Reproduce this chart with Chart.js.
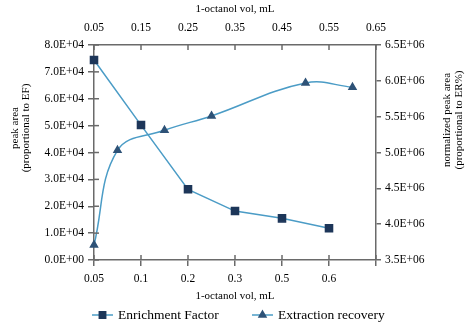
<!DOCTYPE html>
<html>
<head>
<meta charset="utf-8">
<script src="https://cdn.jsdelivr.net/npm/chart.js@4.4.0/dist/chart.umd.min.js"></script>
<style>
  html, body { margin: 0; padding: 0; background: #fff; }
</style>
</head>
<body>
<canvas id="chart" width="472" height="323"></canvas>
<script>
// bottom axis (category) - enrichment factor, left axis
var volLabels = ['0.05', '0.1', '0.2', '0.3', '0.5', '0.6', ''];
var enrichment = [74400, 50200, 26300, 18200, 15500, 11800];

// top axis (linear) - extraction recovery, right axis
var recoveryVol = [0.05, 0.1, 0.2, 0.3, 0.5, 0.6];
var recovery = [3710000, 5030000, 5310000, 5510000, 5970000, 5910000];
var topTicks = [0.05, 0.15, 0.25, 0.35, 0.45, 0.55, 0.65];

var axisColor = '#6a6a6a';
var lineColor = '#4b9cc6';
var serif = '"Liberation Serif", "DejaVu Serif", serif';

function fmtE(v) {
  if (v === 0) return '0.0E+00';
  var e = Math.floor(Math.log10(Math.abs(v)) + 1e-9);
  var m = v / Math.pow(10, e);
  return m.toFixed(1) + 'E+' + (e < 10 ? '0' : '') + e;
}

function line(ctx, x1, y1, x2, y2) {
  ctx.beginPath();
  ctx.moveTo(x1, y1);
  ctx.lineTo(x2, y2);
  ctx.stroke();
}

// inner tick halves, rotated y titles and the legend
var decorations = {
  id: 'decorations',
  afterDraw: function (chart) {
    var ctx = chart.ctx, s = chart.scales;
    ctx.save();
    ctx.strokeStyle = axisColor;
    ctx.lineWidth = 1.5;
    s.x.ticks.forEach(function (t, i) {
      var px = s.x.getPixelForTick(i);
      line(ctx, px, s.x.top, px, s.x.top - 5);
    });
    s.x2.ticks.forEach(function (t, i) {
      var px = s.x2.getPixelForTick(i);
      line(ctx, px, s.x2.bottom, px, s.x2.bottom + 5);
    });
    s.y.ticks.forEach(function (t, i) {
      var py = s.y.getPixelForTick(i);
      line(ctx, s.y.right, py, s.y.right + 5, py);
    });

    ctx.fillStyle = '#000';
    ctx.font = '11px ' + serif;
    ctx.textAlign = 'center';
    ctx.textBaseline = 'middle';
    [[15, 128, 'peak area'], [26, 128, '(proportional to EF)'],
     [447, 120, 'normalized peak area'], [459, 120, '(proportional to ER%)']].forEach(function (t) {
      ctx.save();
      ctx.translate(t[0], t[1]);
      ctx.rotate(-Math.PI / 2);
      ctx.fillText(t[2], 0, 0);
      ctx.restore();
    });

    // legend
    var items = [[92, 'rect', 4.5], [252, 'triangle', 4]];
    ctx.font = '13.5px ' + serif;
    ctx.textAlign = 'left';
    chart.data.datasets.forEach(function (ds, i) {
      var x0 = items[i][0], y0 = 315;
      ctx.strokeStyle = ds.borderColor;
      ctx.lineWidth = 1.5;
      line(ctx, x0, y0, x0 + 21, y0);
      ctx.fillStyle = ds.pointBackgroundColor;
      ctx.strokeStyle = ds.pointBorderColor;
      Chart.helpers.drawPoint(ctx, { pointStyle: items[i][1], radius: items[i][2], borderWidth: 1, rotation: 0 }, x0 + 10.5, y0);
      ctx.fillStyle = '#000';
      ctx.fillText(ds.label, x0 + 26, y0 + 0.5);
    });
    ctx.restore();
  }
};

var tickFont = { family: serif, size: 11.5 };
var titleFont = { family: serif, size: 11 };

new Chart(document.getElementById('chart'), {
  type: 'line',
  data: {
    labels: volLabels,
    datasets: [
      {
        label: 'Enrichment Factor',
        data: enrichment,
        xAxisID: 'x',
        yAxisID: 'y',
        borderColor: lineColor,
        borderWidth: 1.5,
        pointStyle: 'rect',
        pointRadius: 5,
        pointBackgroundColor: '#1d3659',
        pointBorderColor: '#1d3659',
        tension: 0,
        clip: false
      },
      {
        label: 'Extraction recovery',
        data: recoveryVol.map(function (v, i) { return { x: v, y: recovery[i] }; }),
        xAxisID: 'x2',
        yAxisID: 'y2',
        borderColor: lineColor,
        borderWidth: 1.5,
        pointStyle: 'triangle',
        pointRadius: 4,
        pointBackgroundColor: '#2e5277',
        pointBorderColor: '#2e5277',
        tension: 0.4,
        clip: false
      }
    ]
  },
  options: {
    responsive: false,
    animation: false,
    devicePixelRatio: 1,
    layout: { padding: { top: 0, left: 0, right: 0, bottom: 18 } },
    plugins: {
      legend: { display: false },
      tooltip: { enabled: false }
    },
    scales: {
      x: {
        type: 'category',
        position: 'bottom',
        offset: false,
        grid: { drawOnChartArea: false, tickLength: 6, tickColor: axisColor, lineWidth: 1.5 },
        border: { color: axisColor, width: 1.5 },
        ticks: { font: tickFont, color: '#000', padding: 6, maxRotation: 0, autoSkip: false },
        title: { display: true, text: '1-octanol vol, mL', font: titleFont, color: '#000', padding: { top: 0, bottom: 2 } },
        afterFit: function (s) { s.height = 45; }
      },
      x2: {
        type: 'linear',
        position: 'top',
        min: 0.05,
        max: 0.65,
        afterBuildTicks: function (s) { s.ticks = topTicks.map(function (v) { return { value: v }; }); },
        grid: { drawOnChartArea: false, drawTicks: false },
        border: { color: axisColor, width: 1.5 },
        ticks: { font: tickFont, color: '#000', padding: 10, maxRotation: 0, callback: function (v) { return v.toFixed(2); } },
        title: { display: true, text: '1-octanol vol, mL', font: titleFont, color: '#000', padding: { top: 3, bottom: 0 } },
        afterFit: function (s) { s.height = 45; }
      },
      y: {
        type: 'linear',
        position: 'left',
        min: 0,
        max: 80000,
        ticks: { stepSize: 10000, font: tickFont, color: '#000', padding: 4, callback: fmtE },
        grid: { drawOnChartArea: false, tickLength: 6, tickColor: axisColor, lineWidth: 1.5 },
        border: { color: axisColor, width: 1.5 },
        afterFit: function (s) { s.width = 94; }
      },
      y2: {
        type: 'linear',
        position: 'right',
        min: 3500000,
        max: 6500000,
        ticks: { stepSize: 500000, font: tickFont, color: '#000', padding: 4, callback: fmtE },
        grid: { drawOnChartArea: false, tickLength: 5, tickColor: axisColor, lineWidth: 1.5 },
        border: { color: axisColor, width: 1.5 },
        afterFit: function (s) { s.width = 96; }
      }
    }
  },
  plugins: [decorations]
});
</script>
</body>
</html>
